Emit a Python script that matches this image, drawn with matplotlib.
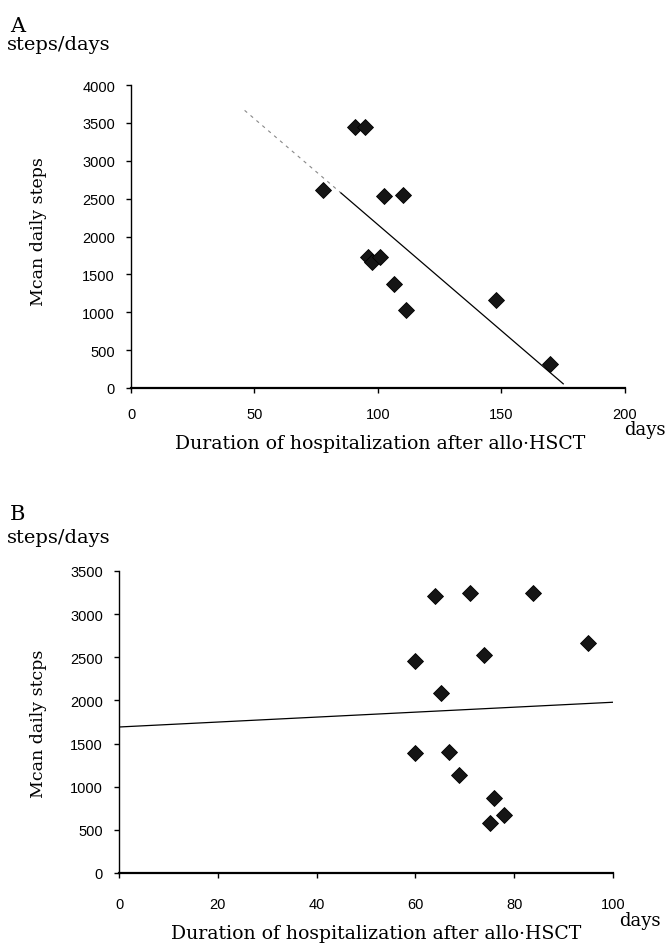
import matplotlib
matplotlib.use("Agg")
import matplotlib.pyplot as plt
from matplotlib import font_manager
import numpy as np

# ---- Panel A data ----
a_days = [90.6, 94.7, 77.6, 102.4, 110.2, 96.0, 97.4, 100.7, 106.4, 111.4, 147.6, 169.7]
a_steps = [3445, 3445, 2614, 2530, 2548, 1730, 1668, 1727, 1373, 1025, 1160, 317]
a_fit_x = [46.0, 85.0, 175.0]
a_fit_y = [3665, 2575, 55]
a_xticks = [0, 50, 100, 150, 200]
a_yticks = [0, 500, 1000, 1500, 2000, 2500, 3000, 3500, 4000]

# ---- Panel B data ----
b_days = [63.9, 71.0, 83.9, 94.9, 60.0, 73.9, 65.1, 60.0, 66.9, 68.9, 76.0, 75.1, 78.0]
b_steps = [3212, 3242, 3246, 2665, 2454, 2527, 2088, 1396, 1404, 1135, 865, 577, 673]
b_fit_x = [0, 100.7]
b_fit_y = [1692, 1981]
b_xticks = [0, 20, 40, 60, 80, 100]
b_yticks = [0, 500, 1000, 1500, 2000, 2500, 3000, 3500]

SERIF = ['DejaVu Serif']

# pick a narrow sans for tick labels if one is installed
try:
    font_manager.findfont(font_manager.FontProperties(family='Liberation Sans Narrow'),
                          fallback_to_default=False)
    TICKF = ['Liberation Sans Narrow', 'DejaVu Sans']
    TICKSIZE = 11.5
except Exception:
    TICKF = ['Liberation Sans', 'DejaVu Sans']
    TICKSIZE = 10.5

W, H = 669, 945
fig = plt.figure(figsize=(W / 100, H / 100), dpi=100)


def px_axes(l, r, t, b):
    return fig.add_axes([l / W, 1 - b / H, (r - l) / W, (b - t) / H])


def style(ax, xt, yt, xpad):
    for s in ['top', 'right']:
        ax.spines[s].set_visible(False)
    ax.spines['left'].set_linewidth(1.0)
    ax.spines['bottom'].set_linewidth(1.6)
    ax.set_xticks(xt)
    ax.set_yticks(yt)
    ax.tick_params(axis='both', direction='out', length=3.5, width=1.0, color='black')
    ax.tick_params(axis='x', pad=xpad)
    ax.tick_params(axis='y', pad=8.0)
    for lab in ax.get_xticklabels() + ax.get_yticklabels():
        lab.set_family(TICKF)
        lab.set_fontsize(TICKSIZE)


# Panel A
axA = px_axes(131, 625, 86, 389)
axA.set_xlim(0, 200)
axA.set_ylim(0, 4000)
axA.plot(a_fit_x[:2], a_fit_y[:2], color='#888888', lw=0.8, ls=(0, (3, 4)))
axA.plot(a_fit_x[1:], a_fit_y[1:], color='black', lw=0.9)
axA.plot(a_days, a_steps, ls='none', marker='D', ms=8.5, mfc='#151515', mec='black', mew=0.6)
style(axA, a_xticks, a_yticks, 10.5)

# Panel B
axB = px_axes(119, 613, 572, 874)
axB.set_xlim(0, 100)
axB.set_ylim(0, 3500)
axB.plot(b_fit_x, b_fit_y, color='black', lw=0.9)
axB.plot(b_days, b_steps, ls='none', marker='D', ms=8.2, mfc='#151515', mec='black', mew=0.6)
style(axB, b_xticks, b_yticks, 13.5)


def ftext(x, y, s, **kw):
    fig.text(x / W, 1 - y / H, s, **kw)


XL = 'Duration of hospitalization after allo\u00b7HSCT'

# Panel A texts
ftext(10, 26, 'A', family=SERIF, fontsize=15, ha='left', va='center')
ftext(7, 45, 'steps/days', family=SERIF, fontsize=14, ha='left', va='center')
ftext(39, 232, 'Mcan daily steps', family=SERIF, fontsize=12.5, rotation=90, ha='center', va='center')
ftext(380, 444, XL, family=SERIF, fontsize=13.6, ha='center', va='center')
ftext(645, 430, 'days', family=SERIF, fontsize=13, ha='center', va='center')

# Panel B texts
ftext(10, 515, 'B', family=SERIF, fontsize=15, ha='left', va='center')
ftext(7, 538, 'steps/days', family=SERIF, fontsize=14, ha='left', va='center')
ftext(39, 724, 'Mcan daily stcps', family=SERIF, fontsize=12.5, rotation=90, ha='center', va='center')
ftext(376, 934, XL, family=SERIF, fontsize=13.6, ha='center', va='center')
ftext(640, 921, 'days', family=SERIF, fontsize=13, ha='center', va='center')

fig.savefig('out.png', dpi=100)
